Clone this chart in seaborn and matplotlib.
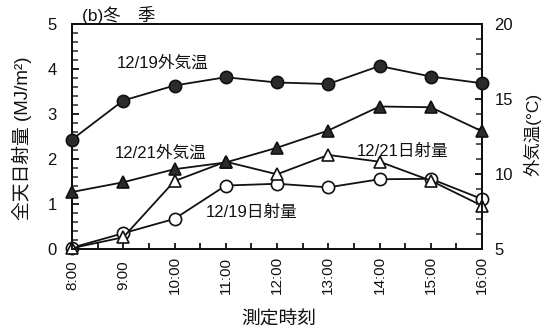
import matplotlib
matplotlib.use("Agg")
import matplotlib.pyplot as plt
from matplotlib.ticker import MultipleLocator
import seaborn as sns
import pandas as pd

# Hourly measurements, 8:00-16:00
hours = [8, 9, 10, 11, 12, 13, 14, 15, 16]
time_labels = ["8:00", "9:00", "10:00", "11:00", "12:00", "13:00", "14:00", "15:00", "16:00"]

# Outside air temperature (°C)
temp_1219 = [12.3, 14.9, 15.9, 16.45, 16.1, 16.0, 17.2, 16.5, 16.05]
temp_1221 = [8.8, 9.45, 10.32, 10.77, 11.75, 12.9, 14.5, 14.45, 12.85]

# Global solar radiation (MJ/m²)
rad_1219 = [0.03, 0.35, 0.67, 1.41, 1.45, 1.37, 1.55, 1.56, 1.11]
rad_1221 = [0.02, 0.26, 1.51, 1.94, 1.66, 2.09, 1.94, 1.52, 0.96]

sns.set_style("ticks")
plt.rcParams["font.family"] = ["Liberation Sans", "Noto Sans CJK JP", "DejaVu Sans"]
NARROW = ["Liberation Sans Narrow", "Liberation Sans", "Noto Sans CJK JP"]
JP = ["Liberation Sans", "Noto Sans CJK JP"]

df = pd.DataFrame({
    "hour": hours,
    "temp_1219": temp_1219,
    "temp_1221": temp_1221,
    "rad_1219": rad_1219,
    "rad_1221": rad_1221,
})

fig = plt.figure(figsize=(5.47, 3.29), dpi=100)
ax = fig.add_axes([72 / 547, 1 - 249 / 329, 410 / 547, 225 / 329])
ax2 = ax.twinx()

ink = "#111111"
lw = 1.3
ms = 8.8

common = dict(color=ink, linewidth=lw, clip_on=False, markeredgecolor=ink,
              markeredgewidth=1.2, markersize=ms)

# Radiation on the left axis (open markers)
sns.lineplot(data=df, x="hour", y="rad_1219", ax=ax, marker="o",
             markerfacecolor="white", zorder=3, **common)
sns.lineplot(data=df, x="hour", y="rad_1221", ax=ax, marker="^",
             markerfacecolor="white", zorder=4, **common)

# Temperature on the right axis (filled markers)
sns.lineplot(data=df, x="hour", y="temp_1219", ax=ax2, marker="o",
             markerfacecolor="#2b2b2b", zorder=3, **common)
sns.lineplot(data=df, x="hour", y="temp_1221", ax=ax2, marker="^",
             markerfacecolor="#2b2b2b", zorder=4, **common)

ax.set_xlim(8, 16)
ax.set_ylim(0, 5)
ax2.set_ylim(5, 20)

for spine in list(ax.spines.values()) + list(ax2.spines.values()):
    spine.set_linewidth(1.4)
    spine.set_color(ink)

# Left axis ticks
ax.yaxis.set_major_locator(MultipleLocator(1))
ax.yaxis.set_minor_locator(MultipleLocator(0.2))
ax.tick_params(axis="y", which="major", direction="in", length=5, width=1.3,
               pad=11, labelsize=12, colors=ink, right=False)
ax.tick_params(axis="y", which="minor", direction="in", length=4, width=1.1,
               right=False)
for lab in ax.get_yticklabels():
    lab.set_family(NARROW)

# Bottom axis ticks
ax.set_xticks(hours)
ax.set_xticklabels(time_labels, rotation=90, family=NARROW, fontsize=11)
ax.xaxis.set_minor_locator(MultipleLocator(0.5))
ax.tick_params(axis="x", which="both", direction="in", length=4, width=1.3,
               pad=19, colors=ink, top=False)
for lab in ax.get_xticklabels():
    lab.set_va("center")

# Right axis ticks
ax2.yaxis.set_major_locator(MultipleLocator(5))
ax2.yaxis.set_minor_locator(MultipleLocator(1))
ax2.tick_params(axis="y", which="major", direction="in", length=5, width=1.3,
                pad=9, labelsize=12, colors=ink)
ax2.tick_params(axis="y", which="minor", direction="in", length=4, width=1.1)
for lab in ax2.get_yticklabels():
    lab.set_family(NARROW)

ax.set_xlabel("")
ax.set_ylabel("")
ax2.set_ylabel("")

# Axis titles
ax.text(-0.122, 0.49, "全天日射量 (MJ/m²)", transform=ax.transAxes, rotation=90,
        ha="center", va="center", fontsize=13.5, family=JP, color=ink)
ax.text(1.124, 0.507, "外気温(°C)", transform=ax.transAxes, rotation=90,
        ha="center", va="center", fontsize=12.5, family=JP, color=ink)
fig.text(279 / 547, 1 - 320 / 329, "測定時刻", ha="center", va="center",
         fontsize=13.5, family=JP, color=ink)
ax.text(0.024, 1.04, "(b)冬　季", transform=ax.transAxes, ha="left",
        va="center", fontsize=12.5, family=JP, color=ink)

# Series labels (left-axis data coordinates)
ax.text(9.76, 4.13, "12/19外気温", ha="center", va="center", fontsize=12,
        family=JP, color=ink)
ax.text(9.72, 2.13, "12/21外気温", ha="center", va="center", fontsize=12,
        family=JP, color=ink)
ax.text(14.46, 2.16, "12/21日射量", ha="center", va="center", fontsize=12,
        family=JP, color=ink)
ax.text(11.51, 0.82, "12/19日射量", ha="center", va="center", fontsize=12,
        family=JP, color=ink)

fig.savefig("out.png", dpi=100, facecolor="white")
